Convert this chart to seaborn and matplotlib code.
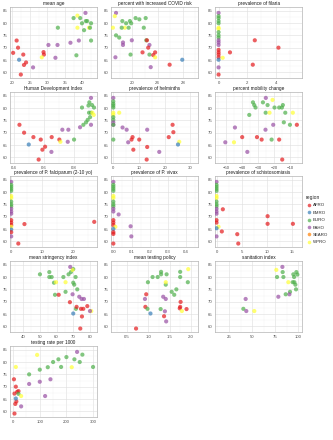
import matplotlib
matplotlib.use("Agg")
import matplotlib.pyplot as plt
from matplotlib.lines import Line2D
from matplotlib.ticker import AutoMinorLocator, FixedLocator
import pandas as pd
import seaborn as sns

regions = ["AFRO", "EMRO", "EURO", "PAHO", "SEARO", "WPRO"]
colors = ["#E41A1C", "#377EB8", "#4DAF4A", "#984EA3", "#FF7F00", "#FFFF33"]

mean_age = [
    ("AFRO", 21.2, 72.9), ("AFRO", 21.6, 70.0), ("AFRO", 20.2, 67.9), ("AFRO", 23.1, 67.2),
    ("AFRO", 23.3, 63.0), ("AFRO", 23.9, 64.0), ("AFRO", 22.4, 59.1), ("AFRO", 28.9, 68.2),
    ("AFRO", 29.0, 67.2), ("EMRO", 21.9, 65.1), ("WPRO", 28.4, 66.1), ("WPRO", 38.6, 83.0),
    ("WPRO", 38.6, 78.1), ("WPRO", 41.9, 78.1), ("PAHO", 25.9, 62.0), ("PAHO", 30.3, 71.1),
    ("PAHO", 32.9, 71.1), ("PAHO", 32.3, 65.9), ("PAHO", 36.6, 72.0), ("PAHO", 39.0, 72.9),
    ("PAHO", 40.9, 84.1), ("EURO", 33.0, 78.1), ("EURO", 37.5, 82.0), ("EURO", 39.4, 82.0),
    ("EURO", 39.9, 79.9), ("EURO", 41.0, 80.8), ("EURO", 41.4, 80.8), ("EURO", 42.5, 79.9),
    ("EURO", 40.5, 77.1), ("EURO", 42.5, 72.9), ("EURO", 38.3, 66.9), ("EURO", 42.2, 78.1),
]

covid_risk = [
    ("PAHO", 17.4, 84.1), ("WPRO", 17.2, 82.8), ("EURO", 18.4, 80.8), ("EURO", 19.0, 79.9),
    ("EURO", 19.6, 80.8), ("EURO", 20.5, 82.0), ("EURO", 21.1, 81.5), ("EURO", 19.8, 79.9),
    ("EURO", 22.1, 82.0), ("WPRO", 16.9, 78.1), ("WPRO", 18.8, 78.1), ("EURO", 18.3, 78.1),
    ("EURO", 19.4, 78.1), ("EURO", 21.8, 78.1), ("EURO", 17.4, 75.0), ("EURO", 17.9, 74.1),
    ("PAHO", 18.5, 72.1), ("PAHO", 18.5, 71.1), ("PAHO", 19.9, 73.0), ("EURO", 22.2, 73.0),
    ("AFRO", 22.3, 73.0), ("PAHO", 22.7, 71.1), ("AFRO", 22.5, 70.0), ("AFRO", 21.6, 68.1),
    ("EURO", 19.7, 67.2), ("EURO", 22.7, 67.2), ("AFRO", 23.3, 67.0), ("AFRO", 23.6, 68.1),
    ("WPRO", 23.6, 66.1), ("PAHO", 17.3, 66.1), ("AFRO", 25.9, 63.1), ("PAHO", 22.9, 62.1),
    ("EMRO", 27.9, 65.1),
]

filaria = [
    ("PAHO", 0, 84.1), ("EURO", 0, 82.8), ("EURO", 0, 82.0), ("EURO", 0, 80.8), ("EURO", 0, 79.9),
    ("WPRO", 0, 78.1), ("WPRO", 0, 77.6), ("EURO", 0, 76.3), ("EURO", 0, 75.0), ("EURO", 0, 74.1),
    ("PAHO", 0, 73.0), ("PAHO", 0, 72.1), ("PAHO", 0, 71.1), ("AFRO", 0, 69.1), ("AFRO", 0, 68.1),
    ("AFRO", 0, 67.2), ("AFRO", 0, 66.1), ("AFRO", 0.8, 68.1), ("WPRO", 0.29, 65.9),
    ("EMRO", 0, 65.1), ("PAHO", 0, 62.0), ("AFRO", 0, 59.1), ("AFRO", 2.54, 73.0),
    ("AFRO", 4.2, 70.0), ("AFRO", 2.4, 63.1),
]

hdi = [
    ("AFRO", 0.436, 73.2), ("AFRO", 0.467, 70.0), ("AFRO", 0.529, 68.2), ("AFRO", 0.578, 67.2),
    ("AFRO", 0.651, 68.2), ("AFRO", 0.607, 64.3), ("AFRO", 0.589, 63.1), ("AFRO", 0.564, 59.1),
    ("AFRO", 0.702, 67.2), ("EMRO", 0.498, 65.2), ("WPRO", 0.709, 66.3), ("PAHO", 0.649, 62.2),
    ("PAHO", 0.722, 71.2), ("PAHO", 0.758, 66.3), ("PAHO", 0.762, 71.2), ("PAHO", 0.840, 72.2),
    ("PAHO", 0.913, 84.1), ("PAHO", 0.913, 73.2), ("EURO", 0.800, 67.2), ("EURO", 0.853, 80.2),
    ("EURO", 0.862, 73.2), ("EURO", 0.880, 74.2), ("EURO", 0.891, 75.2), ("EURO", 0.896, 81.0),
    ("EURO", 0.913, 78.1), ("EURO", 0.920, 81.2), ("EURO", 0.933, 80.2), ("EURO", 0.900, 78.1),
    ("EURO", 0.902, 82.3), ("EURO", 0.907, 76.3), ("WPRO", 0.922, 78.1), ("WPRO", 0.931, 77.2),
]

helminths = [
    ("PAHO", 0, 84.1), ("EURO", 0, 82.7), ("EURO", 0, 81.7), ("EURO", 0, 81.0), ("EURO", 0, 80.2),
    ("WPRO", 0, 78.1), ("WPRO", 0, 77.3), ("EURO", 0, 76.3), ("EURO", 0, 75.2), ("PAHO", 0, 74.2),
    ("PAHO", 0, 73.2), ("EURO", 0, 73.2), ("EURO", 0, 67.2), ("WPRO", 2.3, 78.1),
    ("PAHO", 3.6, 72.1), ("PAHO", 5.2, 71.2), ("PAHO", 5.8, 66.1), ("AFRO", 7.5, 68.2),
    ("AFRO", 7.1, 67.2), ("AFRO", 7.8, 63.1), ("AFRO", 10.1, 67.2), ("PAHO", 13.2, 71.2),
    ("AFRO", 13.2, 64.2), ("AFRO", 13.0, 59.1), ("PAHO", 17.9, 62.2), ("AFRO", 21.6, 68.2),
    ("AFRO", 23.1, 73.2), ("AFRO", 23.4, 70.2), ("WPRO", 25.7, 66.3), ("EMRO", 25.2, 65.2),
]

mobility = [
    ("PAHO", -25.2, 84.1), ("WPRO", -21.0, 83.3), ("EURO", -33.2, 82.3), ("EURO", -32.4, 81.2),
    ("EURO", -27.0, 82.3), ("EURO", -24.1, 81.2), ("EURO", -14.6, 81.2), ("EURO", -31.6, 80.2),
    ("EURO", -19.8, 80.2), ("EURO", -16.9, 80.2), ("EURO", -15.2, 80.2), ("EURO", -13.1, 78.1),
    ("EURO", -35.5, 77.2), ("EURO", -25.3, 78.1), ("WPRO", -22.9, 78.1), ("WPRO", -8.4, 78.1),
    ("EURO", -14.0, 74.2), ("EURO", -10.2, 73.2), ("AFRO", -5.9, 73.2), ("PAHO", -20.6, 73.2),
    ("PAHO", -44.4, 72.1), ("PAHO", -25.4, 71.2), ("AFRO", -39.9, 68.2), ("AFRO", -30.7, 68.2),
    ("AFRO", -27.8, 67.2), ("AFRO", -16.9, 67.2), ("EURO", -21.6, 67.2), ("PAHO", -50.4, 66.1),
    ("WPRO", -45.0, 66.1), ("PAHO", -36.7, 62.2), ("AFRO", -15.0, 59.1),
]

falciparum = [
    ("PAHO", 0, 84.1), ("EURO", 0, 82.9), ("EURO", 0, 82.1), ("EURO", 0, 81.3), ("EURO", 0, 80.5),
    ("WPRO", 0, 78.4), ("WPRO", 0, 77.6), ("EURO", 0, 76.1), ("EURO", 0, 75.0), ("EURO", 0, 74.2),
    ("PAHO", 0, 73.2), ("PAHO", 0, 72.1), ("PAHO", 0, 71.2), ("AFRO", 0, 68.6), ("AFRO", 0, 67.6),
    ("AFRO", 0, 66.6), ("WPRO", 0, 65.9), ("EMRO", 0, 64.8), ("AFRO", 0, 63.7), ("PAHO", 0, 62.0),
    ("AFRO", 4.3, 67.0), ("AFRO", 2.3, 59.1), ("AFRO", 27.0, 67.9),
]

vivax = [
    ("PAHO", 0, 84.1), ("EURO", 0, 82.9), ("EURO", 0, 82.1), ("EURO", 0, 81.3), ("EURO", 0, 80.5),
    ("WPRO", 0, 78.4), ("WPRO", 0, 77.6), ("EURO", 0, 76.1), ("EURO", 0, 75.0), ("EURO", 0, 74.2),
    ("PAHO", 0, 73.2), ("PAHO", 0, 72.1), ("PAHO", 0.029, 70.9), ("AFRO", 0, 68.6),
    ("AFRO", 0, 67.6), ("AFRO", 0, 66.6), ("WPRO", 0.011, 65.9), ("EMRO", 0, 65.0),
    ("AFRO", 0, 63.7), ("AFRO", 0, 63.0), ("AFRO", 0, 59.1), ("PAHO", 0.095, 66.1),
    ("PAHO", 0.099, 62.0),
]

schisto = [
    ("PAHO", 0, 84.1), ("EURO", 0, 82.9), ("EURO", 0, 82.1), ("EURO", 0, 81.3), ("EURO", 0, 80.5),
    ("WPRO", 0, 78.4), ("WPRO", 0, 77.6), ("EURO", 0, 76.1), ("EURO", 0, 75.0), ("EURO", 0, 74.2),
    ("PAHO", 0, 73.2), ("PAHO", 0, 72.1), ("PAHO", 0, 71.2), ("AFRO", 0, 68.6), ("AFRO", 0, 67.6),
    ("WPRO", 0.4, 65.9), ("EMRO", 0, 65.3), ("PAHO", 0, 62.0), ("AFRO", 1.25, 73.0),
    ("AFRO", 10.1, 70.2), ("AFRO", 10.1, 67.1), ("AFRO", 15.1, 67.1), ("AFRO", 1.05, 64.0),
    ("AFRO", 4.1, 62.9), ("AFRO", 4.3, 59.1),
]

stringency = [
    ("EURO", 50.1, 81.1), ("EURO", 55.7, 82.0), ("EURO", 55.7, 80.0), ("EURO", 57.1, 80.0),
    ("EURO", 58.5, 77.7), ("EURO", 64.1, 80.0), ("EURO", 67.2, 81.1), ("EURO", 68.6, 82.0),
    ("EURO", 70.0, 83.2), ("EURO", 71.4, 80.0), ("EURO", 70.0, 77.7), ("EURO", 70.6, 76.9),
    ("EURO", 72.4, 75.0), ("EURO", 59.1, 72.8), ("EURO", 65.4, 74.0), ("EURO", 71.6, 67.1),
    ("WPRO", 59.7, 77.9), ("WPRO", 65.4, 77.9), ("WPRO", 69.6, 82.9), ("WPRO", 80.8, 66.2),
    ("PAHO", 68.2, 84.1), ("PAHO", 69.6, 73.0), ("PAHO", 73.6, 72.0), ("PAHO", 75.0, 71.1),
    ("PAHO", 76.4, 71.1), ("PAHO", 80.0, 66.2), ("AFRO", 61.3, 72.8), ("AFRO", 68.0, 69.8),
    ("AFRO", 72.0, 67.9), ("AFRO", 74.6, 67.1), ("AFRO", 76.0, 67.1), ("AFRO", 78.4, 68.2),
    ("AFRO", 75.2, 64.0), ("AFRO", 74.2, 59.1), ("EMRO", 70.0, 65.2),
]

testing_policy = [
    ("EURO", 1.30, 82.1), ("EURO", 1.30, 81.1), ("EURO", 1.10, 80.0), ("EURO", 1.22, 80.0),
    ("EURO", 1.43, 81.1), ("EURO", 1.75, 82.1), ("EURO", 1.75, 80.0), ("EURO", 0.99, 77.9),
    ("EURO", 1.41, 76.9), ("WPRO", 1.41, 77.9), ("WPRO", 1.94, 83.2), ("EURO", 1.93, 77.9),
    ("EURO", 1.66, 75.0), ("EURO", 1.55, 74.0), ("EURO", 1.61, 72.8), ("AFRO", 0.95, 73.0),
    ("PAHO", 1.35, 72.0), ("PAHO", 0.92, 71.1), ("PAHO", 1.41, 71.1), ("AFRO", 1.76, 69.9),
    ("AFRO", 0.93, 67.9), ("EURO", 0.98, 67.1), ("AFRO", 1.75, 67.9), ("AFRO", 1.74, 67.3),
    ("AFRO", 1.90, 67.0), ("WPRO", 1.79, 66.2), ("EURO", 1.29, 67.0), ("PAHO", 1.39, 66.1),
    ("EMRO", 1.05, 65.2), ("AFRO", 1.37, 64.1), ("PAHO", 1.42, 62.0), ("AFRO", 0.71, 59.1),
]

sanitation = [
    ("WPRO", 76.4, 82.9), ("PAHO", 83.0, 84.1), ("EURO", 83.3, 82.0), ("EURO", 77.2, 80.0),
    ("EURO", 84.1, 80.0), ("EURO", 98.2, 82.0), ("EURO", 94.9, 81.1), ("EURO", 95.7, 80.0),
    ("EURO", 99.3, 81.0), ("WPRO", 89.5, 77.9), ("EURO", 94.2, 77.9), ("EURO", 96.0, 77.9),
    ("EURO", 97.1, 76.9), ("EURO", 97.8, 75.0), ("EURO", 91.3, 74.0), ("PAHO", 90.6, 73.0),
    ("EURO", 86.6, 73.0), ("PAHO", 78.6, 72.0), ("PAHO", 43.1, 71.1), ("EURO", 40.6, 67.1),
    ("PAHO", 43.8, 66.2), ("WPRO", 52.5, 66.2),
]

testing_rate = [
    ("AFRO", 5, 59.1), ("AFRO", 8, 63.0), ("AFRO", 12, 64.0), ("AFRO", 5, 67.2), ("AFRO", 15, 67.9),
    ("AFRO", 20, 68.2), ("AFRO", 10, 70.0), ("AFRO", 3, 73.0), ("EMRO", 10, 65.2),
    ("PAHO", 60, 71.1), ("PAHO", 100, 72.0), ("PAHO", 120, 66.2), ("PAHO", 30, 62.0),
    ("PAHO", 240, 84.1), ("PAHO", 140, 73.0), ("EURO", 150, 80.0), ("EURO", 200, 82.0),
    ("EURO", 230, 81.1), ("EURO", 260, 83.0), ("EURO", 180, 78.0), ("EURO", 100, 76.9),
    ("EURO", 60, 75.0), ("EURO", 250, 80.0), ("EURO", 300, 78.0), ("EURO", 130, 77.9),
    ("EURO", 170, 81.1), ("EURO", 20, 67.1), ("WPRO", 10, 78.0), ("WPRO", 90, 82.9),
    ("WPRO", 30, 66.2), ("WPRO", 220, 77.9),
]

panels = [
    ("mean age", mean_age, [20, 25, 30, 35, 40], (19.3, 44.2)),
    ("percent with increased COVID risk", covid_risk, [20, 24, 28], (16.6, 30.4)),
    ("prevalence of filaria", filaria, [0, 2, 4], (-0.25, 5.85)),
    ("Human Development Index", hdi, [0.4, 0.6, 0.8], (0.373, 0.953)),
    ("prevalence of helminths", helminths, [0, 10, 20, 30], (-0.9, 33.0)),
    ("percent mobility change", mobility, [-50, -40, -30, -20, -10], (-56.8, -2.7)),
    ("prevalence of P. falciparum (2-10 yo)", falciparum, [0, 10, 20], (-0.4, 27.9)),
    ("prevalence of P. vivax", vivax, [0.0, 0.1, 0.2, 0.3, 0.4], (-0.013, 0.466)),
    ("prevalence of schistosomiasis", schisto, [0, 5, 10, 15], (-0.3, 16.9)),
    ("mean stringency index", stringency, [40, 50, 60, 70, 80], (32.2, 84.2)),
    ("mean testing policy", testing_policy, [0.5, 1.0, 1.5, 2.0], (0.12, 2.17)),
    ("sanitation index", sanitation, [25, 50, 75, 100], (9.8, 104.3)),
    ("testing rate per 1000", testing_rate, [0, 100, 200, 300], None),
]

sns.set_theme(style="white")
plt.rcParams["font.family"] = ["Liberation Sans", "DejaVu Sans"]

pal = dict(zip(regions, colors))
W, H = 333, 440
lefts = [10, 111, 215]
tops = [7, 92, 176, 261, 346]
pw, ph = 87, 71

fig = plt.figure(figsize=(W / 100, H / 100), dpi=100)

for i, (title, pts, ticks, xlim) in enumerate(panels):
    r, c = divmod(i, 3)
    ax = fig.add_axes([lefts[c] / W, 1 - (tops[r] + ph) / H, pw / W, ph / H])
    df = pd.DataFrame(pts, columns=["region", "x", "y"])
    sns.scatterplot(data=df, x="x", y="y", hue="region", hue_order=regions,
                    palette=pal, s=9, alpha=0.7, linewidth=0, legend=False,
                    ax=ax, zorder=3)
    ax.margins(x=0.05)
    if xlim:
        ax.set_xlim(*xlim)
    ax.set_ylim(57.7, 86.5)
    ax.xaxis.set_major_locator(FixedLocator(ticks))
    ax.set_yticks([60, 65, 70, 75, 80, 85])
    ax.xaxis.set_minor_locator(AutoMinorLocator(2))
    ax.yaxis.set_minor_locator(AutoMinorLocator(2))
    ax.grid(True, which="major", color="#DEDEDE", linewidth=0.4)
    ax.grid(True, which="minor", color="#EFEFEF", linewidth=0.25)
    ax.set_axisbelow(True)
    ax.set_xlabel("")
    ax.set_ylabel("")
    ax.set_title(title, fontsize=3.4, pad=1.5, color="#1A1A1A")
    ax.tick_params(axis="both", which="major", labelsize=3.1, length=1.2,
                   width=0.3, pad=0.8, colors="#B3B3B3", labelcolor="#4D4D4D")
    ax.tick_params(which="minor", length=0)
    for sp in ax.spines.values():
        sp.set_color("#B3B3B3")
        sp.set_linewidth(0.5)

handles = [Line2D([], [], marker="o", linestyle="", markersize=2.6, markeredgewidth=0,
                  markerfacecolor=col, alpha=0.7) for col in colors]
leg = fig.legend(handles, regions, title="region", loc="upper left",
                 bbox_to_anchor=(304 / W, 1 - 193 / H), frameon=False,
                 fontsize=3.2, title_fontsize=3.6, handletextpad=0.2,
                 labelspacing=0.75, handlelength=1.4, borderaxespad=0)
leg._legend_box.align = "left"

fig.savefig("out.png", dpi=100)
